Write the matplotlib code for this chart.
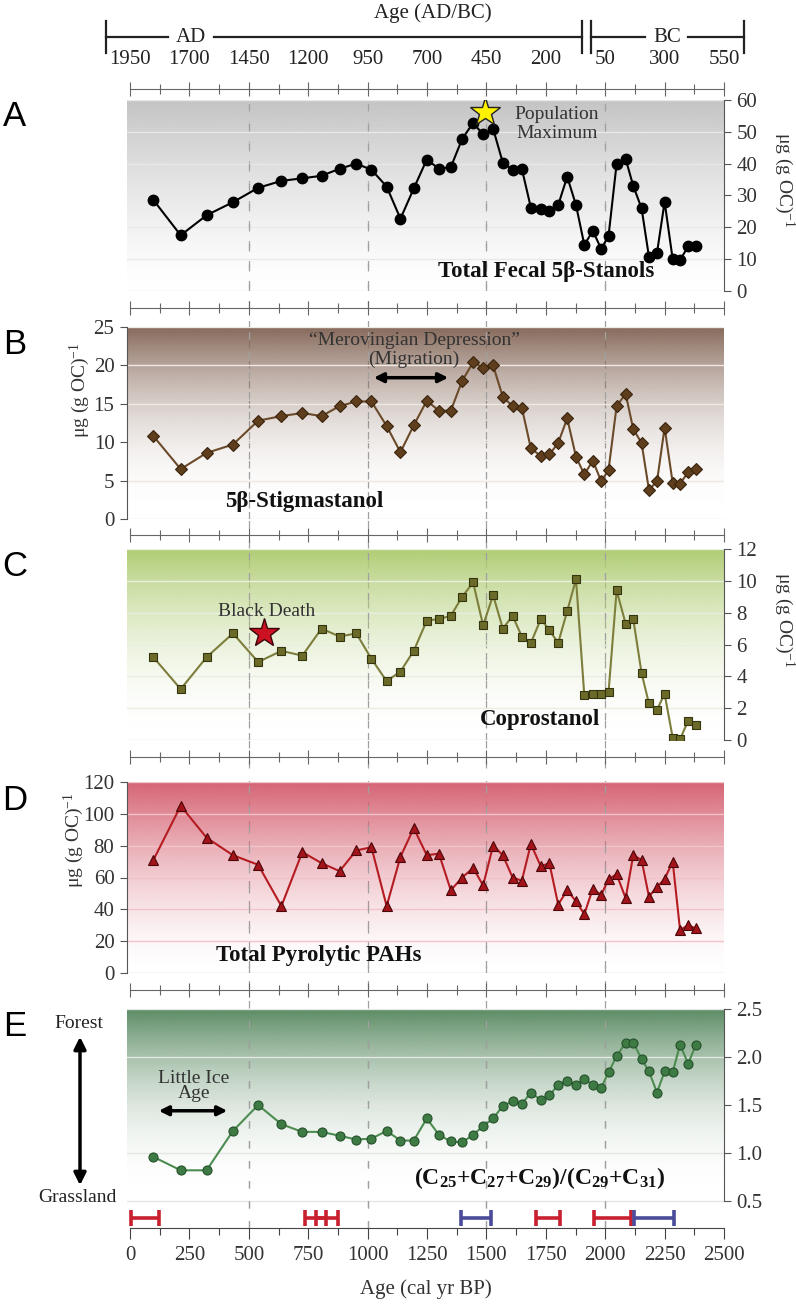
import numpy as np
import matplotlib
matplotlib.use("Agg")
import matplotlib.pyplot as plt
from matplotlib.colors import to_rgb
from matplotlib.lines import Line2D
from matplotlib.patches import FancyArrowPatch
from matplotlib.ticker import MultipleLocator, FormatStrFormatter

# sample ages (cal yr BP), shared by all five records
ages = [98, 213, 322, 433, 539, 637, 725, 806, 882, 952, 1016, 1080, 1138, 1194,
        1249, 1300, 1350, 1398, 1444, 1486, 1528, 1569, 1610, 1649, 1687, 1729,
        1765, 1802, 1840, 1877, 1912, 1948, 1983, 2014, 2048, 2086, 2118, 2153,
        2184, 2218, 2250, 2284, 2315, 2349, 2382]

stanols = [28.6, 17.5, 23.8, 27.9, 32.4, 34.6, 35.4, 36.2, 38.4, 40.0, 38.1, 32.8,
           22.7, 32.2, 41.3, 38.4, 38.9, 47.8, 52.8, 49.2, 51.0, 40.3, 38.1, 38.4,
           26.2, 25.7, 25.1, 27.0, 35.9, 27.0, 14.5, 18.9, 13.2, 17.3, 40.0, 41.5,
           33.0, 26.0, 10.8, 12.0, 28.0, 10.0, 9.7, 14.0, 14.0]

stigmastanol = [10.8, 6.5, 8.6, 9.7, 12.8, 13.4, 13.8, 13.4, 14.7, 15.3, 15.3, 12.1,
                8.7, 12.2, 15.4, 14.1, 14.1, 18.0, 20.4, 19.7, 20.0, 15.9, 14.7, 14.5,
                9.2, 8.2, 8.4, 9.9, 13.1, 8.1, 5.8, 7.6, 4.9, 6.4, 14.7, 16.3, 11.7,
                9.9, 3.8, 4.9, 11.9, 4.7, 4.6, 6.1, 6.5]

coprostanol = [5.2, 3.2, 5.2, 6.7, 4.9, 5.6, 5.3, 7.0, 6.5, 6.7, 5.1, 3.7, 4.3, 5.6,
               7.5, 7.6, 7.8, 9.0, 9.9, 7.2, 9.1, 7.0, 7.8, 6.5, 6.1, 7.6, 6.9, 6.1,
               8.1, 10.1, 2.8, 2.9, 2.9, 3.0, 9.4, 7.3, 7.6, 4.2, 2.3, 1.9, 2.9, 0.15,
               0.05, 1.2, 0.95]

pahs = [71, 105, 85, 74, 68, 42, 76, 69, 64, 77, 79, 42, 73, 91, 74, 75, 52, 60, 66,
        55, 80, 74, 60, 58, 81, 67, 69, 43, 52, 45, 37, 53, 49, 59, 62, 47, 74, 71,
        48, 54, 59, 70, 27, 30, 28]

alkane_ratio = [0.96, 0.82, 0.82, 1.23, 1.50, 1.30, 1.22, 1.22, 1.18, 1.14, 1.15,
                1.23, 1.13, 1.13, 1.36, 1.19, 1.12, 1.11, 1.19, 1.28, 1.36, 1.49,
                1.54, 1.51, 1.63, 1.55, 1.60, 1.71, 1.75, 1.71, 1.77, 1.71, 1.68,
                1.84, 2.01, 2.15, 2.15, 1.98, 1.85, 1.63, 1.85, 1.84, 2.13, 1.93, 2.13]

# dated intervals under panel E
red_start = [3, 736, 784, 1710, 1953]
red_end = [122, 826, 876, 1811, 2108]
blue_start = [1393, 2121]
blue_end = [1518, 2288]

# top calendar axis
cal_ticks = [0, 250, 500, 750, 1000, 1250, 1500, 1750, 2000, 2250, 2500]
cal_labels = ["1950", "1700", "1450", "1200", "950", "700", "450", "200", "50", "300", "550"]

# annotation anchors (age, value)
pop_max = (1494, 56.2)
black_death = (564, 6.7)
mero_span = (1014, 1351, 18.4)
lia_span = (109, 421, 1.44)

W, H = 796, 1309
X0, X1 = 127, 724          # pixel extent of plot area
XLIM = (-13, 2500)
SERIF = "Liberation Serif"

plt.rcParams["font.family"] = [SERIF, "DejaVu Serif"]
plt.rcParams["mathtext.fontset"] = "custom"
plt.rcParams["mathtext.rm"] = SERIF
plt.rcParams["mathtext.it"] = SERIF + ":italic"
plt.rcParams["mathtext.bf"] = SERIF + ":bold"


def _fx(px):
    return px / W


def _fy(py):
    return 1 - py / H


def _axes(fig, top, bottom, **kw):
    return fig.add_axes([_fx(X0), _fy(bottom), _fx(X1 - X0), (bottom - top) / H], **kw)


def _gradient(ax, color, y0, y1, p):
    t = np.linspace(0, 1, 256)
    img = np.zeros((256, 1, 4))
    img[..., :3] = to_rgb(color)
    img[:, 0, 3] = t ** p
    ax.imshow(img, extent=[XLIM[0], XLIM[1], y0, y1], origin="lower", aspect="auto", zorder=0)


def _panel(fig, top, bottom, ylim, step, side, grad_color, p, grid_color, fmt="%d", band=None):
    ax = _axes(fig, top, bottom)
    ax.set_facecolor("none")
    y0, y1 = band if band else ylim
    _gradient(ax, grad_color, y0, y1, p)
    for yv in np.arange(y0, y1 + 1e-9, step):
        ax.axhline(yv, color=grid_color, lw=1.0, zorder=1)
    for xv in [500, 1000, 1500, 2000]:
        ax.axvline(xv, color="#a0a0a0", lw=0.9, ls=(0, (6, 10)), zorder=1)
    ax.set_xlim(*XLIM)
    ax.set_ylim(*ylim)
    ax.yaxis.set_major_locator(MultipleLocator(step))
    ax.yaxis.set_major_formatter(FormatStrFormatter(fmt))
    for s in ax.spines.values():
        s.set_visible(False)
    ax.spines[side].set_visible(True)
    ax.spines[side].set_color("#555555")
    ax.spines[side].set_bounds(y0, y1)
    if side == "right":
        ax.yaxis.tick_right()
    ax.tick_params(axis="y", length=5, width=0.8, color="#555555", labelsize=15,
                   labelcolor="#333333", pad=4)
    ax.set_yticks(np.arange(y0, y1 + 1e-9, step))
    ax.set_xticks([])
    return ax


def _sep(fig, y, top_labels=False):
    ax = _axes(fig, y - 1, y)
    ax.set_facecolor("none")
    for s in ax.spines.values():
        s.set_visible(False)
    ax.spines["bottom"].set_visible(True)
    ax.spines["bottom"].set_color("#666666")
    ax.spines["bottom"].set_bounds(0, 2500)
    ax.set_xlim(*XLIM)
    ax.set_yticks([])
    ax.xaxis.set_major_locator(MultipleLocator(250))
    ax.xaxis.set_minor_locator(MultipleLocator(125))
    ax.tick_params(axis="x", which="major", direction="inout", length=10, width=0.8,
                   color="#666666", labelbottom=False)
    ax.tick_params(axis="x", which="minor", direction="inout", length=7, width=0.8,
                   color="#666666")
    if top_labels:
        ax.set_xticks(cal_ticks)
        ax.set_xticklabels(cal_labels)
        ax.tick_params(axis="x", labeltop=True, labelbottom=False, labelsize=15,
                       labelcolor="#222222", pad=9)
    return ax


def main():
    fig = plt.figure(figsize=(W / 100, H / 100), dpi=100)

    # dashed guide lines running through the gaps between panels
    bg = _axes(fig, 89, 1228, zorder=-1)
    bg.set_xlim(*XLIM)
    bg.axis("off")
    for xv in [500, 1000, 1500, 2000]:
        bg.axvline(xv, color="#a0a0a0", lw=0.9, ls=(0, (6, 10)))

    # A: total fecal stanols
    a = _panel(fig, 100, 291, (0, 60), 10, "right", "#c4c4c4", 1.4, "#e8e8e8")
    a.plot(ages, stanols, color="black", lw=1.5, marker="o", ms=7.5,
           mfc="black", mec="black", zorder=3)
    a.plot(*pop_max, marker="*", ms=22, mfc="#fff200", mec="#222222", mew=1.0, zorder=4)
    fig.text(_fx(557), _fy(124), "Population\nMaximum", ha="center", va="center",
             fontsize=14, color="#333333", linespacing=1.2)
    fig.text(_fx(546), _fy(272), "Total Fecal 5β-Stanols", ha="center", va="center",
             fontsize=16.5, fontweight="bold", color="#111111")

    # B: 5b-stigmastanol
    b = _panel(fig, 327, 519, (0, 25), 5, "left", "#86695a", 2.2, "#efe9e4")
    b.plot(ages, stigmastanol, color="#6b4a2a", lw=1.5, marker="D", ms=6,
           mfc="#5e3e1c", mec="#3a240e", mew=0.8, zorder=3)
    fig.text(_fx(414), _fy(350), "\u201cMerovingian Depression\u201d\n(Migration)",
             ha="center", va="center", fontsize=14, color="#333333", linespacing=1.2)
    b.annotate("", xy=(mero_span[1], mero_span[2]), xytext=(mero_span[0], mero_span[2]),
               arrowprops=dict(arrowstyle="<|-|>", lw=2.5, color="black", mutation_scale=14),
               zorder=4)
    fig.text(_fx(304), _fy(501), "5β-Stigmastanol", ha="center", va="center",
             fontsize=16.5, fontweight="bold", color="#111111")

    # C: coprostanol
    c = _panel(fig, 549, 740, (0, 12), 2, "right", "#b0cd74", 2.0, "#e9eee0")
    c.plot(ages, coprostanol, color="#7d7d3c", lw=1.5, marker="s", ms=6,
           mfc="#6b6a28", mec="#34340e", mew=0.8, zorder=3)
    c.plot(*black_death, marker="*", ms=22, mfc="#cc1122", mec="#3a0508", mew=1.0, zorder=4)
    fig.text(_fx(267), _fy(612), "Black Death", ha="center", va="center",
             fontsize=14, color="#333333")
    fig.text(_fx(540), _fy(720), "Coprostanol", ha="center", va="center",
             fontsize=16.5, fontweight="bold", color="#111111")

    # D: pyrolytic PAHs
    d = _panel(fig, 782, 973, (0, 120), 20, "left", "#d66474", 1.6, "#f2c3ca")
    d.plot(ages, pahs, color="#b51c22", lw=1.5, marker="^", ms=6.5,
           mfc="#a3141a", mec="#4a0508", mew=0.8, zorder=3)
    fig.text(_fx(319), _fy(955), "Total Pyrolytic PAHs", ha="center", va="center",
             fontsize=16.5, fontweight="bold", color="#111111")

    # E: n-alkane ratio
    e = _panel(fig, 1009, 1228, (0.219, 2.5), 0.5, "right", "#5a8a62", 2.2, "#e3e6e3",
               fmt="%.1f", band=(0.5, 2.5))
    e.plot(ages, alkane_ratio, color="#4d8c50", lw=1.5, marker="o", ms=6.5,
           mfc="#3e7a44", mec="#24502a", mew=0.8, zorder=3)
    e.annotate("", xy=(lia_span[1], lia_span[2]), xytext=(lia_span[0], lia_span[2]),
               arrowprops=dict(arrowstyle="<|-|>", lw=2.5, color="black", mutation_scale=14),
               zorder=4)
    fig.text(_fx(194), _fy(1086), "Little Ice\nAge", ha="center", va="center",
             fontsize=14, color="#333333", linespacing=0.85)
    fig.text(_fx(540), _fy(1178),
             r"$\mathbf{(C_{25}{+}C_{27}{+}C_{29})/(C_{29}{+}C_{31})}$",
             ha="center", va="center", fontsize=17, color="#111111")

    bar_y = 0.323
    cap = 0.08
    for s0, s1 in zip(red_start, red_end):
        e.hlines(bar_y, s0, s1, color="#c8202e", lw=2.6, zorder=4)
        e.vlines([s0, s1], bar_y - cap, bar_y + cap, color="#c8202e", lw=2.6, zorder=4)
    for s0, s1 in zip(blue_start, blue_end):
        e.hlines(bar_y, s0, s1, color="#4a4c9a", lw=2.6, zorder=4)
        e.vlines([s0, s1], bar_y - cap, bar_y + cap, color="#4a4c9a", lw=2.6, zorder=4)

    e.spines["bottom"].set_visible(True)
    e.spines["bottom"].set_color("#444444")
    e.spines["bottom"].set_bounds(0, 2500)
    e.set_xticks(np.arange(0, 2501, 250))
    e.xaxis.set_minor_locator(MultipleLocator(125))
    e.tick_params(axis="x", which="major", length=8, width=0.8, color="#444444",
                  labelsize=15, labelcolor="#333333", pad=5)
    e.tick_params(axis="x", which="minor", length=5, width=0.8, color="#444444")
    e.set_xlabel("Age (cal yr BP)", fontsize=15, color="#333333", labelpad=10)

    # separators with tick rows
    _sep(fig, 89, top_labels=True)
    for y in [308, 535, 757, 990]:
        _sep(fig, y)

    # calendar bracket (AD | BC)
    lk = dict(color="#222222", lw=1.6, transform=fig.transFigure)
    for x0, x1 in [(106, 168), (214, 582), (591, 645), (688, 744)]:
        fig.add_artist(Line2D([_fx(x0), _fx(x1)], [_fy(37), _fy(37)], **lk))
    for xb in [106, 582, 591, 744]:
        fig.add_artist(Line2D([_fx(xb), _fx(xb)], [_fy(21), _fy(53)], **lk))
    fig.text(_fx(191), _fy(37), "AD", ha="center", va="center", fontsize=15, color="#222222")
    fig.text(_fx(667), _fy(37), "BC", ha="center", va="center", fontsize=15, color="#222222")
    fig.text(_fx(433), _fy(13), "Age (AD/BC)", ha="center", va="center", fontsize=15,
             color="#222222")

    # y labels
    ylab = "μg (g OC)$^{-1}$"
    fig.text(_fx(784), _fy(180), ylab, rotation=270, ha="center", va="center", fontsize=14,
             color="#333333")
    fig.text(_fx(784), _fy(620), ylab, rotation=270, ha="center", va="center", fontsize=14,
             color="#333333")
    fig.text(_fx(80), _fy(390), ylab, rotation=90, ha="center", va="center", fontsize=14,
             color="#333333")
    fig.text(_fx(74), _fy(840), ylab, rotation=90, ha="center", va="center", fontsize=14,
             color="#333333")

    # panel letters
    for letter, y in zip("ABCDE", [116, 345, 567, 800, 1026]):
        fig.text(_fx(15), _fy(y), letter, ha="center", va="center", fontsize=25,
                 family="Liberation Sans", color="black")

    # forest / grassland axis
    fig.text(_fx(79), _fy(1023), "Forest", ha="center", va="center", fontsize=14, color="#222222")
    fig.text(_fx(77), _fy(1198), "Grassland", ha="center", va="center", fontsize=14,
             color="#222222")
    fig.add_artist(FancyArrowPatch((_fx(80), _fy(1034)), (_fx(80), _fy(1188)),
                                   transform=fig.transFigure, arrowstyle="<|-|>",
                                   mutation_scale=18, lw=2.5, color="black"))

    fig.savefig("out.png", dpi=100)


if __name__ == "__main__":
    main()
